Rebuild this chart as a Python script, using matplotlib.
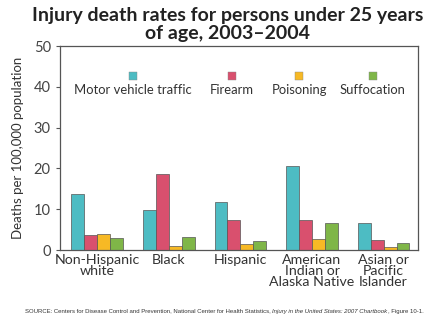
import matplotlib
matplotlib.use("Agg")
import matplotlib.pyplot as plt
import numpy as np

plt.rcParams['font.family'] = ['Lato', 'DejaVu Sans']

# data
groups = ["Non-Hispanic\nwhite", "Black", "Hispanic",
          "American\nIndian or\nAlaska Native", "Asian or\nPacific\nIslander"]
causes = ["Motor vehicle traffic", "Firearm", "Poisoning", "Suffocation"]
motor_vehicle = [13.7, 9.7, 11.7, 20.7, 6.5]
firearm = [3.8, 18.7, 7.3, 7.4, 2.4]
poisoning = [3.9, 1.1, 1.4, 2.6, 0.7]
suffocation = [2.9, 3.3, 2.1, 6.5, 1.6]
colors = ["#4dbcc3", "#d9506e", "#f7b925", "#7fb648"]

series = [motor_vehicle, firearm, poisoning, suffocation]

fig = plt.figure(figsize=(4.4, 3.3), dpi=100)
ax = fig.add_axes([0.136, 0.2424, 0.814, 0.618])

x = np.arange(len(groups))
width = 0.18
for i, (vals, col) in enumerate(zip(series, colors)):
    ax.bar(x + (i - 1.5) * width, vals, width, color=col,
           edgecolor="#555555", linewidth=0.5, zorder=2)

ax.set_xlim(-0.52, 4.48)
ax.set_ylim(0, 50)
ax.set_yticks([0, 10, 20, 30, 40, 50])
ax.set_xticks(x)
ax.set_xticklabels(groups, fontsize=10.2, color="#333333", linespacing=0.88)
ax.tick_params(axis='x', length=0, pad=3)
ax.tick_params(axis='y', labelsize=10.5, colors="#555555", length=3,
               width=0.8, labelcolor="#444444")
for sp in ax.spines.values():
    sp.set_color("#555555")
    sp.set_linewidth(0.9)
ax.set_ylabel("Deaths per 100,000 population", fontsize=9.5, color="#333333",
              labelpad=7)

# legend: colour square above each label
leg_x = [0.204, 0.48, 0.668, 0.874]
for lx, name, col in zip(leg_x, causes, colors):
    ax.scatter([lx], [0.853], marker='s', s=36, color=col,
               edgecolor="#888888", linewidth=0.3, transform=ax.transAxes,
               clip_on=False, zorder=3)
    ax.text(lx, 0.784, name, transform=ax.transAxes, ha='center',
            va='center', fontsize=9.4, color="#333333")

fig.suptitle("Injury death rates for persons under 25 years\nof age, 2003\u20132004",
             x=0.518, y=0.978, fontsize=14, fontweight='bold', color="#222222",
             linespacing=1.05)

# source line, italic title in the middle
src_font = ['Liberation Sans', 'DejaVu Sans']
parts = [("SOURCE: Centers for Disease Control and Prevention, National Center for Health Statistics, ", 'normal'),
         ("Injury in the United States: 2007 Chartbook", 'italic'),
         (", Figure 10-1.", 'normal')]
prev = fig.text(0.057, 0.05, parts[0][0], fontsize=4.35, color="#333333",
                family=src_font, va='bottom')
for txt, st in parts[1:]:
    prev = ax.annotate(txt, xy=(1, 0), xycoords=prev, fontsize=4.35,
                       color="#333333", style=st, family=src_font,
                       ha='left', va='bottom', annotation_clip=False)

fig.savefig("out.png", dpi=100, facecolor='white')
